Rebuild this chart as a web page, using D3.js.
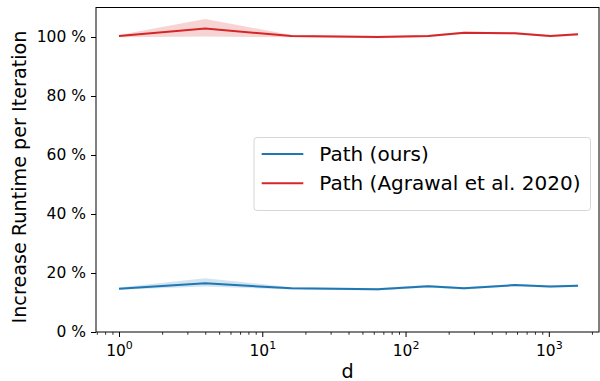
<!DOCTYPE html>
<html>
  <head>
    <meta charset="utf-8" />
    <style>
      body { margin: 0; background: #fff; }
      text { font-family: 'DejaVu Sans', sans-serif; fill: #000; }
    </style>
    <script src="https://d3js.org/d3.v7.min.js"></script>
  </head>
  <body>
    <svg width="600" height="381"></svg>
    <script>
      // data
      var dims = [1, 4, 16, 64, 144, 256, 576, 1024, 1600]
      var oursMean = [0.147, 0.165, 0.148, 0.145, 0.155, 0.148, 0.159, 0.154, 0.157]
      var oursLow = [0.143, 0.154, 0.144, 0.141, 0.151, 0.144, 0.155, 0.150, 0.153]
      var oursHigh = [0.151, 0.182, 0.152, 0.149, 0.159, 0.152, 0.163, 0.158, 0.161]
      var agrMean = [1.003, 1.029, 1.003, 1.0, 1.003, 1.014, 1.013, 1.003, 1.009]
      var agrLow = [0.999, 1.002, 0.999, 0.996, 0.999, 1.010, 1.009, 0.999, 1.005]
      var agrHigh = [1.007, 1.061, 1.007, 1.004, 1.007, 1.018, 1.017, 1.007, 1.013]
      var yTicks = [0, 0.2, 0.4, 0.6, 0.8, 1.0]
      var xTicks = [1, 10, 100, 1000]

      var series = [
        { name: 'Path (ours)', color: '#1f77b4', mean: oursMean, low: oursLow, high: oursHigh },
        { name: 'Path (Agrawal et al. 2020)', color: '#d62728', mean: agrMean, low: agrLow, high: agrHigh },
      ]

      var svg = d3.select('svg')
      var pLeft = 96, pRight = 599, pTop = 7.5, pBottom = 332

      var x = d3.scaleLog().domain([0.691, 2240]).range([pLeft, pRight])
      var y = d3.scaleLinear().domain([0, 1.1]).range([pBottom, pTop])

      // bands
      series.forEach(function (s) {
        var area = d3.area()
          .x(function (d, i) { return x(dims[i]) })
          .y0(function (d, i) { return y(s.low[i]) })
          .y1(function (d, i) { return y(s.high[i]) })
        svg.append('path')
          .attr('d', area(dims))
          .attr('fill', s.color)
          .attr('fill-opacity', 0.2)
          .attr('stroke', 'none')
      })

      // lines
      var line = d3.line()
        .x(function (d, i) { return x(dims[i]) })
        .y(function (d) { return y(d) })
      series.forEach(function (s) {
        svg.append('path')
          .attr('d', line(s.mean))
          .attr('fill', 'none')
          .attr('stroke', s.color)
          .attr('stroke-width', 2)
      })

      // y axis
      var yAxis = svg.append('g').attr('transform', 'translate(' + pLeft + ',0)')
        .call(d3.axisLeft(y).tickValues(yTicks).tickSize(5).tickPadding(5)
          .tickFormat(function (d) { return Math.round(d * 100) + ' %' }))
      yAxis.select('.domain').remove()
      yAxis.selectAll('text').style('font-size', '15.5px').style('font-family', 'DejaVu Sans')
      yAxis.selectAll('line').attr('stroke', '#000')

      // x axis, major and minor ticks
      var minor = []
      ;[0.1, 1, 10, 100, 1000].forEach(function (b) {
        for (var k = 2; k <= 9; k++) {
          var v = b * k
          if (v >= x.domain()[0] && v <= x.domain()[1]) minor.push(v)
        }
      })
      var xMinor = svg.append('g').attr('transform', 'translate(0,' + pBottom + ')')
        .call(d3.axisBottom(x).tickValues(minor).tickSize(2.8).tickFormat(''))
      xMinor.select('.domain').remove()
      xMinor.selectAll('line').attr('stroke', '#000').attr('stroke-width', 0.8)

      var xAxis = svg.append('g').attr('transform', 'translate(0,' + pBottom + ')')
        .call(d3.axisBottom(x).tickValues(xTicks).tickSize(5).tickFormat(''))
      xAxis.select('.domain').remove()
      xAxis.selectAll('line').attr('stroke', '#000')
      xAxis.selectAll('.tick').each(function (d) {
        var t = d3.select(this).append('text')
          .attr('y', 23.7)
          .attr('text-anchor', 'middle')
          .style('font-size', '15.5px')
        t.append('tspan').text('10')
        t.append('tspan').attr('dy', -6.7).style('font-size', '11px').text(Math.round(Math.log10(d)))
      })

      // frame
      svg.append('rect')
        .attr('x', pLeft).attr('y', pTop)
        .attr('width', pRight - pLeft).attr('height', pBottom - pTop)
        .attr('fill', 'none').attr('stroke', '#000').attr('stroke-width', 1)

      // axis labels
      svg.append('text')
        .attr('x', (pLeft + pRight) / 2).attr('y', 378)
        .attr('text-anchor', 'middle').style('font-size', '19.2px').text('d')
      svg.append('text')
        .attr('transform', 'translate(26,177) rotate(-90)')
        .attr('text-anchor', 'middle').style('font-size', '19.2px')
        .text('Increase Runtime per Iteration')

      // legend
      var lg = svg.append('g').attr('transform', 'translate(254,137.5)')
      lg.append('rect')
        .attr('width', 336.5).attr('height', 73).attr('rx', 3)
        .attr('fill', '#fff').attr('fill-opacity', 0.8)
        .attr('stroke', '#d6d6d6')
      series.forEach(function (s, i) {
        var yy = 16.5 + i * 29.3
        lg.append('line')
          .attr('x1', 7.7).attr('x2', 49.3).attr('y1', yy).attr('y2', yy)
          .attr('stroke', s.color).attr('stroke-width', 2)
        lg.append('text')
          .attr('x', 65.3).attr('y', yy + 7)
          .style('font-size', '20px').text(s.name)
      })
    </script>
  </body>
</html>
